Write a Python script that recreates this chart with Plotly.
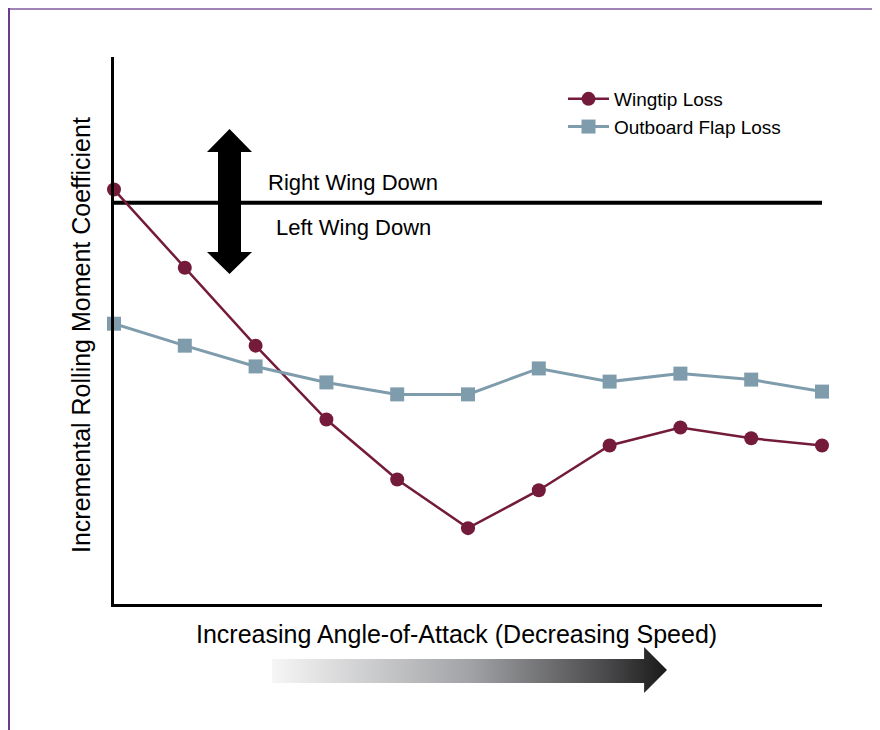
import plotly.graph_objects as go

# page body has an 8px margin, so the figure is drawn 8px in from the window edges
OFF = 8
W, H = 880 - OFF, 730 - OFF

# ---- data (arbitrary rolling-moment units; 0 = neutral line) ----
angle_steps = list(range(11))
wingtip_loss = [0.33, -1.63, -3.58, -5.43, -6.93, -8.15, -7.20, -6.08, -5.63, -5.90, -6.08]
outboard_flap_loss = [-3.03, -3.58, -4.10, -4.50, -4.80, -4.80, -4.15, -4.48, -4.28, -4.43, -4.73]
series_names = ["Wingtip Loss", "Outboard Flap Loss"]

FONT = "Liberation Sans, Arial, sans-serif"
MAROON = "#741b3c"
STEEL = "#7f9cad"


def px(x):
    """window pixel x -> paper"""
    return (x - OFF) / W


def py(y):
    """window pixel y -> paper"""
    return 1 - (y - OFF) / H


fig = go.Figure()

fig.add_trace(go.Scatter(
    x=angle_steps, y=wingtip_loss, name=series_names[0], mode="lines+markers",
    line=dict(color=MAROON, width=2.5),
    marker=dict(symbol="circle", size=14, color=MAROON),
    cliponaxis=False,
))
fig.add_trace(go.Scatter(
    x=angle_steps, y=outboard_flap_loss, name=series_names[1], mode="lines+markers",
    line=dict(color=STEEL, width=3),
    marker=dict(symbol="square", size=14, color=STEEL),
    cliponaxis=False,
))

# gradient arrow under the x-axis title (decorative)
fig.add_trace(go.Scatter(
    x=[0, 0.942, 0.942, 1, 0.942, 0.942, 0, 0],
    y=[0.217, 0.217, 0, 0.5, 1, 0.739, 0.739, 0.217],
    xaxis="x2", yaxis="y2", mode="lines", fill="toself",
    line=dict(width=0, color="rgba(0,0,0,0)"),
    fillgradient=dict(type="horizontal",
                      colorscale=[[0, "#f6f6f6"], [0.5, "#a2a3a6"], [0.85, "#48484a"], [1, "#1a1a1a"]]),
    showlegend=False, hoverinfo="skip",
))

fig.update_layout(
    width=W, height=H,
    margin=dict(l=0, r=0, t=0, b=0, autoexpand=False),
    paper_bgcolor="white", plot_bgcolor="white",
    font=dict(family=FONT, color="black"),
    xaxis=dict(domain=[px(114), px(822)], range=[0, 10], showgrid=False, zeroline=False,
               showticklabels=False, ticks="", showline=True, linecolor="black", linewidth=3),
    yaxis=dict(domain=[py(604), py(57)], range=[-10.05, 3.65], showgrid=False, zeroline=False,
               showticklabels=False, ticks="", showline=True, linecolor="black", linewidth=3),
    xaxis2=dict(domain=[px(272), px(667)], range=[0, 1], visible=False, anchor="y2"),
    yaxis2=dict(domain=[py(693), py(647)], range=[0, 1], visible=False, anchor="x2"),
    showlegend=True,
    legend=dict(x=px(563), y=py(80), xanchor="left", yanchor="top",
                font=dict(family=FONT, size=19, color="black"),
                bgcolor="rgba(0,0,0,0)", itemwidth=41, tracegroupgap=0),
)

# neutral (zero) line
fig.add_shape(type="line", xref="x domain", yref="y", x0=0, x1=1, y0=0, y1=0,
              line=dict(color="black", width=4), layer="below")

# border lines
fig.add_shape(type="line", xref="paper", yref="paper", x0=px(8), x1=1, y0=py(9), y1=py(9),
              line=dict(color="#a084b6", width=2))
fig.add_shape(type="line", xref="paper", yref="paper", x0=px(9), x1=px(9), y0=py(8), y1=0,
              line=dict(color="#6a3b8e", width=2))

# double-headed arrow
pts = [(229.5, 129), (252, 152), (241, 152), (241, 252), (252, 252), (229.5, 274),
       (207, 252), (218, 252), (218, 152), (207, 152)]
path = "M " + " L ".join(f"{px(a):.5f},{py(b):.5f}" for a, b in pts) + " Z"
fig.add_shape(type="path", xref="paper", yref="paper", path=path,
              fillcolor="black", line=dict(width=0))

# texts
common = dict(xref="paper", yref="paper", showarrow=False, xanchor="center", yanchor="middle")
fig.add_annotation(text="Right Wing Down", x=px(353), y=py(182),
                   font=dict(size=22, family=FONT, color="black"), **common)
fig.add_annotation(text="Left Wing Down", x=px(353), y=py(228),
                   font=dict(size=22, family=FONT, color="black"), **common)
fig.add_annotation(text="Increasing Angle-of-Attack (Decreasing Speed)",
                   x=px(456.5), y=py(634),
                   font=dict(size=25, family=FONT, color="black"), **common)
fig.add_annotation(text="Incremental Rolling Moment Coefficient",
                   x=px(81), y=py(335), textangle=-90,
                   font=dict(size=25, family=FONT, color="black"), **common)

fig.write_html("out.html")
